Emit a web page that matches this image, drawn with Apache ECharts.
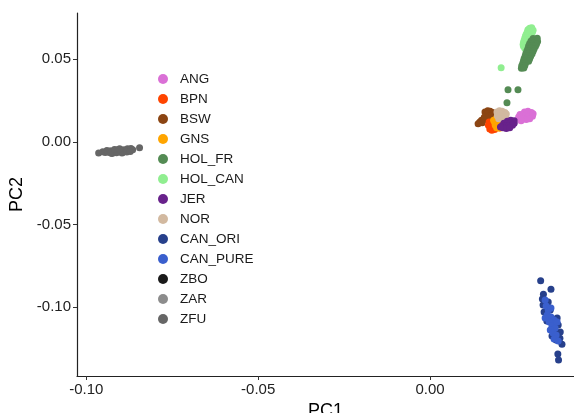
<!DOCTYPE html>
<html>
<head>
<meta charset="utf-8">
<script src="https://cdn.jsdelivr.net/npm/echarts@6/dist/echarts.min.js"></script>
<style>
html,body{margin:0;padding:0;background:#fff;}
#chart{width:574px;height:413px;}
</style>
</head>
<body>
<div id="chart"></div>
<script>
// Group names in legend order
var groups = ["ANG","BPN","BSW","GNS","HOL_FR","HOL_CAN","JER","NOR","CAN_ORI","CAN_PURE","ZBO","ZAR","ZFU"];
var groupColors = ["#DA70D6","#FF4500","#8B4513","#FFA500","#548B54","#90EE90","#68228B","#D2B9A0","#27408B","#3A5FCD","#1A1A1A","#8C8C8C","#666666"];

var xTicks = [-0.10, -0.05, 0.00];
var yTicks = [-0.10, -0.05, 0.00, 0.05];

// PC1, PC2 coordinates per group
var ANG = [[0.0275,0.0180],[0.0285,0.0185],[0.0295,0.0178],[0.0262,0.0165],[0.0272,0.0168],[0.0282,0.0170],[0.0292,0.0165],[0.0300,0.0170],[0.0258,0.0150],[0.0268,0.0152],[0.0278,0.0155],[0.0288,0.0152],[0.0298,0.0155],[0.0270,0.0138],[0.0280,0.0135],[0.0290,0.0140],[0.0265,0.0128]];
var BPN = [[0.0172,0.0120],[0.0178,0.0110],[0.0170,0.0100],[0.0176,0.0092],[0.0182,0.0085],[0.0174,0.0078],[0.0180,0.0070],[0.0188,0.0075],[0.0186,0.0090]];
var BSW = [[0.0160,0.0180],[0.0168,0.0188],[0.0175,0.0185],[0.0182,0.0178],[0.0170,0.0172],[0.0178,0.0168],[0.0186,0.0170],[0.0165,0.0160],[0.0172,0.0155],[0.0180,0.0158],[0.0158,0.0148],[0.0166,0.0142],[0.0150,0.0130],[0.0158,0.0135],[0.0145,0.0120],[0.0152,0.0115],[0.0140,0.0110],[0.0190,0.0150]];
var GNS = [[0.0185,0.0130],[0.0192,0.0138],[0.0200,0.0132],[0.0207,0.0125],[0.0188,0.0118],[0.0196,0.0115],[0.0204,0.0110],[0.0212,0.0118],[0.0190,0.0100],[0.0198,0.0095],[0.0206,0.0098],[0.0194,0.0085],[0.0202,0.0082]];
var HOL_FR = [[0.0300,0.0625],[0.0312,0.0627],[0.0294,0.0610],[0.0303,0.0612],[0.0313,0.0608],[0.0290,0.0595],[0.0300,0.0597],[0.0310,0.0593],[0.0287,0.0580],[0.0297,0.0582],[0.0307,0.0578],[0.0285,0.0565],[0.0294,0.0567],[0.0303,0.0563],[0.0282,0.0550],[0.0291,0.0552],[0.0300,0.0548],[0.0279,0.0535],[0.0288,0.0537],[0.0297,0.0533],[0.0277,0.0520],[0.0285,0.0522],[0.0293,0.0518],[0.0274,0.0505],[0.0282,0.0507],[0.0290,0.0503],[0.0272,0.0490],[0.0280,0.0492],[0.0287,0.0488],[0.0270,0.0475],[0.0278,0.0477],[0.0267,0.0460],[0.0276,0.0462],[0.0266,0.0445],[0.0273,0.0447],[0.0227,0.0315],[0.0256,0.0315],[0.0224,0.0236]];
var HOL_CAN = [[0.0290,0.0688],[0.0296,0.0690],[0.0285,0.0678],[0.0293,0.0680],[0.0300,0.0676],[0.0283,0.0665],[0.0291,0.0667],[0.0298,0.0663],[0.0280,0.0652],[0.0288,0.0654],[0.0295,0.0650],[0.0278,0.0640],[0.0286,0.0642],[0.0292,0.0638],[0.0276,0.0628],[0.0284,0.0630],[0.0274,0.0615],[0.0282,0.0617],[0.0272,0.0602],[0.0280,0.0604],[0.0271,0.0590],[0.0278,0.0592],[0.0272,0.0578],[0.0279,0.0580],[0.0276,0.0565],[0.0207,0.0448]];
var JER = [[0.0225,0.0125],[0.0235,0.0130],[0.0245,0.0128],[0.0215,0.0112],[0.0225,0.0110],[0.0235,0.0115],[0.0245,0.0112],[0.0210,0.0098],[0.0220,0.0095],[0.0230,0.0098],[0.0240,0.0100],[0.0212,0.0085],[0.0222,0.0080],[0.0232,0.0085],[0.0205,0.0090]];
var NOR = [[0.0195,0.0180],[0.0202,0.0188],[0.0210,0.0185],[0.0218,0.0178],[0.0200,0.0170],[0.0208,0.0172],[0.0215,0.0165],[0.0222,0.0168],[0.0196,0.0158],[0.0205,0.0155],[0.0212,0.0150],[0.0220,0.0155],[0.0200,0.0140],[0.0210,0.0138],[0.0217,0.0142]];
var CAN_ORI = [[0.0322,-0.0842],[0.0352,-0.0893],[0.0330,-0.0923],[0.0327,-0.0952],[0.0329,-0.0988],[0.0344,-0.0970],[0.0332,-0.1030],[0.0350,-0.1018],[0.0370,-0.1067],[0.0373,-0.1109],[0.0379,-0.1152],[0.0384,-0.1226],[0.0367,-0.1200],[0.0355,-0.1176],[0.0372,-0.1285],[0.0374,-0.1321],[0.0340,-0.1085],[0.0360,-0.1140],[0.0378,-0.1190]];
var CAN_PURE = [[0.0335,-0.0958],[0.0338,-0.0994],[0.0344,-0.1018],[0.0352,-0.1006],[0.0341,-0.1048],[0.0352,-0.1061],[0.0361,-0.1079],[0.0347,-0.1091],[0.0355,-0.1115],[0.0364,-0.1127],[0.0350,-0.1139],[0.0358,-0.1158],[0.0367,-0.1170],[0.0361,-0.1194],[0.0373,-0.1206],[0.0335,-0.1067],[0.0370,-0.1091]];
var ZBO = [[-0.0915,-0.0060],[-0.0900,-0.0050]];
var ZAR = [[-0.0930,-0.0056],[-0.0885,-0.0054]];
var ZFU = [[-0.0964,-0.0067],[-0.0952,-0.0060],[-0.0945,-0.0065],[-0.0940,-0.0052],[-0.0935,-0.0063],[-0.0930,-0.0056],[-0.0925,-0.0070],[-0.0920,-0.0055],[-0.0915,-0.0060],[-0.0910,-0.0048],[-0.0905,-0.0058],[-0.0900,-0.0050],[-0.0896,-0.0068],[-0.0890,-0.0048],[-0.0885,-0.0054],[-0.0880,-0.0042],[-0.0875,-0.0052],[-0.0870,-0.0040],[-0.0865,-0.0048],[-0.0845,-0.0036],[-0.0928,-0.0068],[-0.0912,-0.0066],[-0.0895,-0.0064],[-0.0918,-0.0047],[-0.0903,-0.0042],[-0.0882,-0.0062],[-0.0872,-0.0058]];

var groupData = {ANG:ANG,BPN:BPN,BSW:BSW,GNS:GNS,HOL_FR:HOL_FR,HOL_CAN:HOL_CAN,JER:JER,NOR:NOR,CAN_ORI:CAN_ORI,CAN_PURE:CAN_PURE,ZBO:ZBO,ZAR:ZAR,ZFU:ZFU};
// drawing order (later on top)
var drawOrder = ["ZBO","ZAR","ZFU","HOL_CAN","HOL_FR","CAN_ORI","CAN_PURE","ANG","BSW","BPN","GNS","NOR","JER"];

var series = drawOrder.map(function(name){
  return {
    name: name,
    type: 'scatter',
    data: groupData[name],
    symbolSize: 7,
    itemStyle: {color: groupColors[groups.indexOf(name)], opacity: 1},
    emphasis: {disabled: true}
  };
});

var font = 'Liberation Sans, Arial, sans-serif';
var chart = echarts.init(document.getElementById('chart'), null, {renderer:'canvas'});
chart.setOption({
  animation: false,
  backgroundColor: '#ffffff',
  grid: {left: 77, top: 13, right: 0, bottom: 37, containLabel: false, outerBoundsMode: 'none'},
  legend: {
    data: groups.map(function(g){return {name:g, icon:'circle'};}),
    orient: 'vertical',
    left: 153,
    top: 67,
    itemWidth: 24,
    itemHeight: 10,
    itemGap: 6,
    textStyle: {fontFamily: font, fontSize: 13.5, color: '#1a1a1a', lineHeight: 14},
    selectedMode: false
  },
  xAxis: {
    type: 'value',
    min: -0.1027,
    max: 0.0419,
    name: 'PC1',
    nameLocation: 'middle',
    nameGap: 22,
    nameTextStyle: {fontFamily: font, fontSize: 18, color: '#000'},
    axisLine: {show: true, onZero: false, lineStyle: {color: '#222', width: 1.2}},
    axisTick: {show: true, length: 4, customValues: xTicks, lineStyle: {color: '#333'}},
    axisLabel: {customValues: xTicks, margin: 6, fontFamily: font, fontSize: 15, color: '#222',
      formatter: function(v){return v.toFixed(2);}},
    splitLine: {show: false}
  },
  yAxis: {
    type: 'value',
    min: -0.1418,
    max: 0.0780,
    name: 'PC2',
    nameLocation: 'middle',
    nameGap: 43,
    nameRotate: 90,
    nameTextStyle: {fontFamily: font, fontSize: 18, color: '#000'},
    axisLine: {show: true, onZero: false, lineStyle: {color: '#222', width: 1.2}},
    axisTick: {show: true, length: 4, customValues: yTicks, lineStyle: {color: '#333'}},
    axisLabel: {customValues: yTicks, margin: 6, fontFamily: font, fontSize: 15, color: '#222',
      formatter: function(v){return v.toFixed(2);}},
    splitLine: {show: false}
  },
  series: series
});
</script>
</body>
</html>
